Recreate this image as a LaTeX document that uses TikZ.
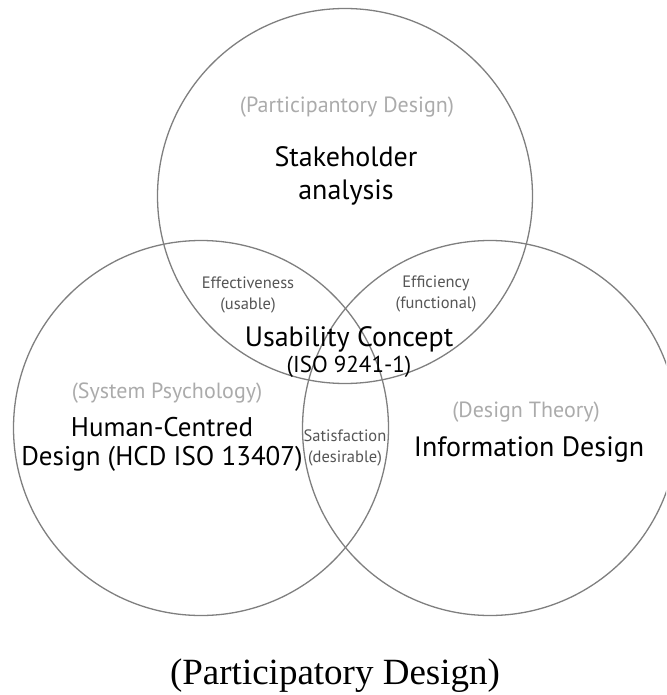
\documentclass[tikz,border=0pt]{standalone}
\usepackage{fontspec}
\setmainfont{Liberation Serif}
\newfontfamily\vennfont{PT Sans}
\usepackage{xcolor}
\usepackage{tikz}
\usetikzlibrary{positioning}
\definecolor{venngray}{HTML}{7F7F7F}
\definecolor{vennlight}{HTML}{ABABAB}
\definecolor{venndark}{HTML}{555555}
\tikzset{
  ring/.style={circle,draw=venngray,line width=1.3pt,minimum size=375pt,inner sep=0pt},
  major/.style={align=center,font=\vennfont\fontsize{28}{33}\selectfont,text=black},
  field/.style={align=center,font=\vennfont\fontsize{22}{24}\selectfont,text=vennlight},
  quality/.style={align=center,font=\vennfont\fontsize{16.5}{21}\selectfont,text=venndark}
}

\begin{document}
\begin{tikzpicture}[x=1pt,y=-1pt]
\useasboundingbox (0,0) rectangle (666,695);
\begin{scope}
\clip (0,0) rectangle (666,695);
\node[ring] (pd) at (345,196) {};
\node[ring] (sp) at (201,428) {};
\node[ring] (dt) at (490,428) {};
\end{scope}
% circle titles
\node[field] (pdfield) at (347,107) {(Participantory Design)};
\node[major] (pdmain) at (346,176) {Stakeholder\\analysis};
\node[field] (spfield) at (167,393) {(System Psychology)};
\node[major,font=\vennfont\fontsize{27}{29}\selectfont] (spmain) at (162,444) {Human-Centred\\Design (HCD ISO 13407)};
\node[field] (dtfield) at (526,412) {(Design Theory)};
\node[major] (dtmain) at (529,450) {Information Design};
% overlaps
\node[quality] (eff) at (248,295) {Effectiveness\\(usable)};
\node[quality] (effi) at (436,294) {Efficiency\\(functional)};
\node[quality] (sat) at (345,448) {Satisfaction\\(desirable)};
\node[major,font=\vennfont\fontsize{28}{27}\selectfont] (usab) at (349,339) {Usability Concept};
\node[major,font=\vennfont\fontsize{23}{25}\selectfont,below=-3pt of usab] (iso) {(ISO 9241-1)};
% caption
\node[font=\fontsize{37}{40}\selectfont] (caption) at (335,676) {(Participatory Design)};
\end{tikzpicture}
\end{document}
